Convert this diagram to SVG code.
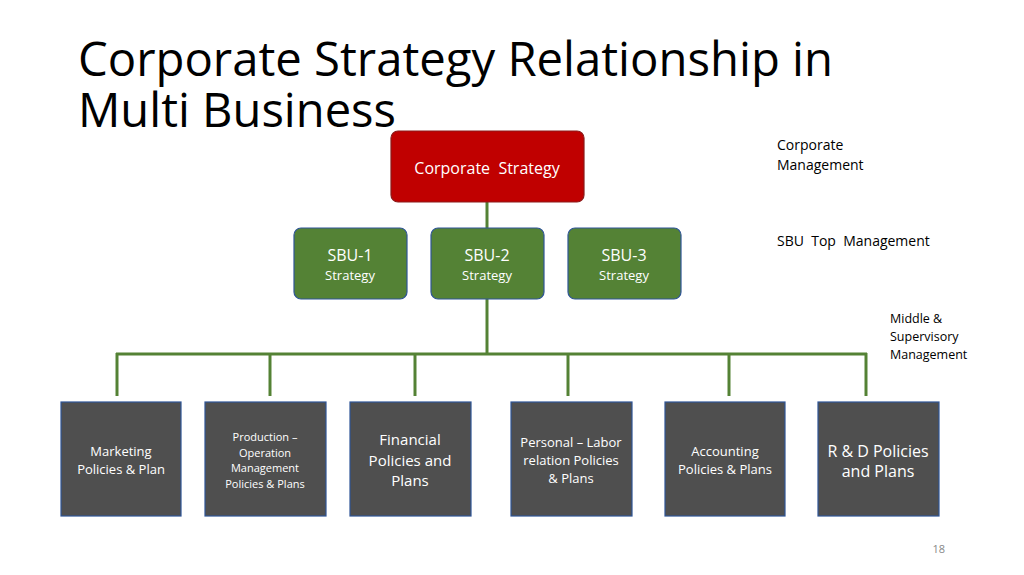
<svg xmlns="http://www.w3.org/2000/svg" width="1024" height="575" viewBox="0 0 1024 575">
<style>
text{font-family:"Open Sans","Noto Sans","Liberation Sans",sans-serif}
.w{fill:#fff;text-anchor:middle}
.sbu{fill:#548235;stroke:#2f5597;stroke-width:1.2}
.bot{fill:#4f4f4f;stroke:#2f5597;stroke-width:1.2}
.c line{stroke:#548235;stroke-width:3}
.lab{font-size:14px;fill:#000}
</style>
<rect width="1024" height="575" fill="#fff"/>
<text x="78" y="76" font-size="47" textLength="755" lengthAdjust="spacingAndGlyphs">Corporate Strategy Relationship in</text>
<text x="78" y="127" font-size="47" textLength="318" lengthAdjust="spacingAndGlyphs">Multi Business</text>
<g class="c" id="connectors">
<line x1="487" y1="202" x2="487" y2="228"/>
<line x1="487" y1="299" x2="487" y2="354"/>
<line x1="116" y1="354" x2="867" y2="354"/>
<line x1="117" y1="353" x2="117" y2="396"/>
<line x1="270" y1="353" x2="270" y2="396"/>
<line x1="415" y1="353" x2="415" y2="396"/>
<line x1="568" y1="353" x2="568" y2="396"/>
<line x1="729" y1="353" x2="729" y2="396"/>
<line x1="866" y1="353" x2="866" y2="396"/>
</g>
<g id="corp"><rect x="391" y="131" width="193" height="71" rx="7" fill="#c00000" stroke="#8b1a1a" stroke-width="1.2"/><text class="w" x="487" y="174" font-size="16" xml:space="preserve">Corporate  Strategy</text></g>
<g id="sbu1"><rect class="sbu" x="294" y="228" width="113" height="71" rx="7"/><text class="w" x="350" y="261" font-size="16">SBU-1</text><text class="w" x="350" y="280" font-size="13">Strategy</text></g>
<g id="sbu2"><rect class="sbu" x="431" y="228" width="113" height="71" rx="7"/><text class="w" x="487" y="261" font-size="16">SBU-2</text><text class="w" x="487" y="280" font-size="13">Strategy</text></g>
<g id="sbu3"><rect class="sbu" x="568" y="228" width="113" height="71" rx="7"/><text class="w" x="624" y="261" font-size="16">SBU-3</text><text class="w" x="624" y="280" font-size="13">Strategy</text></g>
<g id="b1"><rect class="bot" x="61" y="402" width="120" height="114"/><text class="w" x="121" y="456" font-size="13">Marketing</text><text class="w" x="121" y="474" font-size="13">Policies &amp; Plan</text></g>
<g id="b2"><rect class="bot" x="205" y="402" width="121" height="114"/><text class="w" font-size="11"><tspan x="265" y="441">Production –</tspan><tspan x="265" y="457">Operation</tspan><tspan x="265" y="472">Management</tspan><tspan x="265" y="488">Policies &amp; Plans</tspan></text></g>
<g id="b3"><rect class="bot" x="350" y="402" width="121" height="114"/><text class="w" font-size="15"><tspan x="410" y="445">Financial</tspan><tspan x="410" y="466">Policies and</tspan><tspan x="410" y="486">Plans</tspan></text></g>
<g id="b4"><rect class="bot" x="511" y="402" width="121" height="114"/><text class="w" font-size="13"><tspan x="571" y="447">Personal – Labor</tspan><tspan x="571" y="465">relation Policies</tspan><tspan x="571" y="483">&amp; Plans</tspan></text></g>
<g id="b5"><rect class="bot" x="665" y="402" width="120" height="114"/><text class="w" font-size="13"><tspan x="725" y="456">Accounting</tspan><tspan x="725" y="474">Policies &amp; Plans</tspan></text></g>
<g id="b6"><rect class="bot" x="818" y="402" width="121" height="114"/><text class="w" font-size="16"><tspan x="878" y="457">R &amp; D Policies</tspan><tspan x="878" y="477">and Plans</tspan></text></g>
<text class="lab" x="777" y="150">Corporate</text>
<text class="lab" x="777" y="170">Management</text>
<text class="lab" x="777" y="246" xml:space="preserve">SBU  Top  Management</text>
<text x="890" y="323" font-size="12.5">Middle &amp;</text>
<text x="890" y="341" font-size="12.5">Supervisory</text>
<text x="890" y="359" font-size="12.5">Management</text>
<text x="945" y="553" font-size="11" fill="#888" text-anchor="end">18</text>
</svg>
